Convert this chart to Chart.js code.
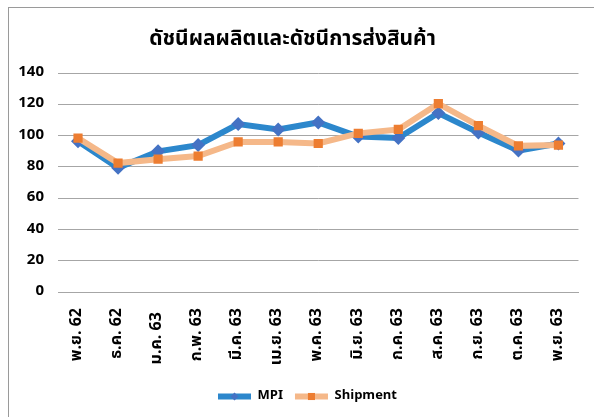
<!DOCTYPE html>
<html>
<head>
<meta charset="utf-8">
<script src="https://cdn.jsdelivr.net/npm/chart.js@4.4.0/dist/chart.umd.min.js"></script>
<style>
html,body{margin:0;padding:0;background:#fff;}
#wrap{width:594px;height:417px;position:relative;}
</style>
</head>
<body>
<div id="wrap"><canvas id="c" width="594" height="417"></canvas></div>
<script>
const titleText = 'ดัชนีผลผลิตและดัชนีการส่งสินค้า';
const categories = ['พ.ย. 62','ธ.ค. 62','ม.ค. 63 ','ก.พ. 63','มี.ค. 63','เม.ย. 63','พ.ค. 63','มิ.ย. 63','ก.ค. 63','ส.ค. 63','ก.ย. 63','ต.ค. 63','พ.ย. 63'];
const mpiValues = [96.5, 79.5, 90, 94, 107.5, 104, 108.5, 99.5, 98.5, 114.5, 102, 90.5, 95];
const shipmentValues = [98.5, 82.5, 85, 87, 96, 96, 95, 101.5, 104, 120.5, 106.5, 93.5, 94];
const yTicks = [0, 20, 40, 60, 80, 100, 120, 140];

const FONT = "Tahoma, 'Noto Sans Thai', 'Noto Sans', 'DejaVu Sans', sans-serif";
Chart.defaults.font.family = FONT;
Chart.defaults.color = '#000';

const LEGEND_BOX = 33;

const borderPlugin = {
  id: 'frame',
  beforeDraw(chart) {
    const ctx = chart.ctx;
    ctx.save();
    ctx.fillStyle = '#fff';
    ctx.fillRect(0, 0, chart.width, chart.height);
    ctx.strokeStyle = '#9a9a9a';
    ctx.lineWidth = 1;
    ctx.strokeRect(8.5, 7.5, 700, 500);
    ctx.restore();
  },
  afterLayout(chart) {
    if (chart.legend) {
      chart.legend.left += 15;
      chart.legend.right += 15;
    }
  },
  afterDraw(chart) {
    const lg = chart.legend;
    if (!lg || !lg.legendHitBoxes) return;
    const ctx = chart.ctx;
    lg.legendHitBoxes.forEach((hb, i) => {
      const ds = chart.data.datasets[i];
      const cx = hb.left + LEGEND_BOX / 2;
      const cy = hb.top + hb.height / 2;
      ctx.save();
      ctx.fillStyle = ds.pointBackgroundColor;
      ctx.strokeStyle = ds.pointBackgroundColor;
      Chart.helpers.drawPoint(ctx, {
        pointStyle: ds.pointStyle,
        rotation: 0,
        radius: i === 0 ? 4 : 5,
        borderWidth: 0
      }, cx, cy);
      ctx.restore();
    });
  }
};

new Chart(document.getElementById('c'), {
  type: 'line',
  data: {
    labels: categories,
    datasets: [
      {
        label: 'MPI',
        data: mpiValues,
        borderColor: '#2C87CC',
        backgroundColor: '#4472C4',
        pointBackgroundColor: '#4472C4',
        pointBorderColor: '#4472C4',
        borderWidth: 6,
        pointStyle: 'rectRot',
        pointRadius: 7,
        pointBorderWidth: 0,
        tension: 0,
        order: 2
      },
      {
        label: 'Shipment',
        data: shipmentValues,
        borderColor: '#F5B889',
        backgroundColor: '#ED7D31',
        pointBackgroundColor: '#ED7D31',
        pointBorderColor: '#ED7D31',
        borderWidth: 6,
        pointStyle: 'rect',
        pointRadius: 6.5,
        pointBorderWidth: 0,
        tension: 0,
        order: 1
      }
    ]
  },
  options: {
    responsive: false,
    animation: false,
    layout: { padding: { left: 0, right: 9, top: 0, bottom: 4 } },
    plugins: {
      title: {
        display: true,
        text: titleText,
        font: { size: 21, weight: 'bold' },
        color: '#000',
        padding: { top: 28, bottom: 20 }
      },
      legend: {
        position: 'bottom',
        labels: {
          sort: (a, b) => a.datasetIndex - b.datasetIndex,
          boxWidth: LEGEND_BOX,
          boxHeight: 6,
          padding: 12,
          font: { size: 13, weight: 'bold' },
          color: '#000',
          generateLabels(chart) {
            return chart.data.datasets.map((ds, i) => ({
              text: ds.label,
              fillStyle: ds.borderColor,
              strokeStyle: ds.borderColor,
              lineWidth: 0,
              datasetIndex: i,
              hidden: !chart.isDatasetVisible(i)
            }));
          }
        }
      },
      tooltip: { enabled: false }
    },
    scales: {
      x: {
        offset: true,
        grid: { display: false, drawTicks: false, offset: true },
        border: { display: true, color: '#a6a6a6', width: 1 },
        ticks: {
          minRotation: 90, maxRotation: 90, padding: 16, autoSkip: false,
          font: { size: 16, weight: 'bold' }, color: '#000'
        },
        afterFit(scale) { scale.height = 86; }
      },
      y: {
        min: 0, max: 140,
        afterBuildTicks(scale) { scale.ticks = yTicks.map(v => ({ value: v })); },
        grid: { color: '#a6a6a6', drawTicks: false, lineWidth: 1 },
        border: { display: false },
        ticks: {
          padding: 14,
          font: { size: 15, weight: 'bold' }, color: '#000'
        },
        afterFit(scale) { scale.width = 58; }
      }
    }
  },
  plugins: [borderPlugin]
});
</script>
</body>
</html>
